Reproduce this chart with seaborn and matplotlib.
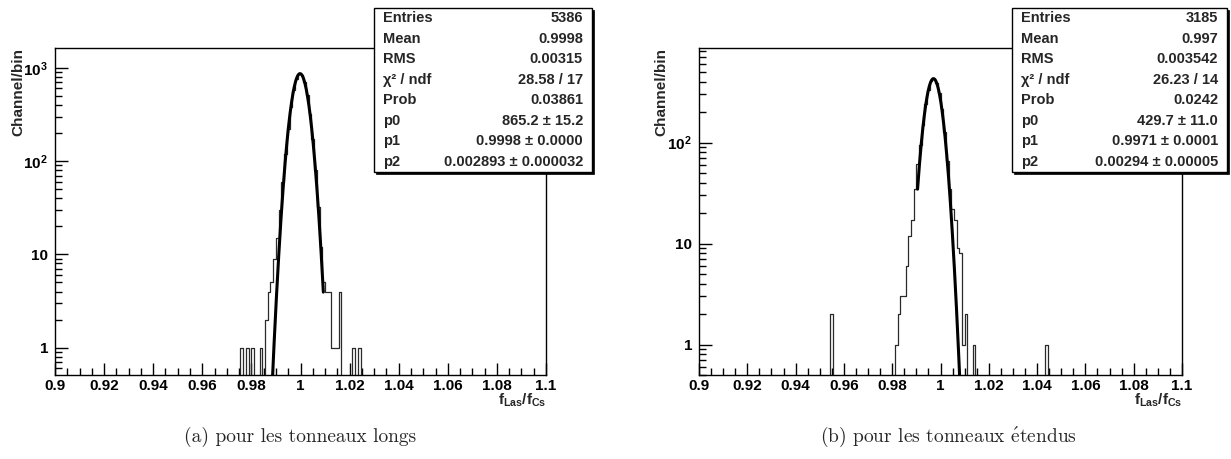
import numpy as np
import matplotlib
matplotlib.use("Agg")
import matplotlib.pyplot as plt
from matplotlib.patches import Rectangle
from matplotlib.ticker import FixedLocator, LogLocator, NullFormatter
import seaborn as sns

sns.set_theme(style="white")
plt.rcParams['font.family'] = ['Liberation Sans', 'DejaVu Sans']
plt.rcParams['font.weight'] = 'bold'
plt.rcParams['mathtext.fontset'] = 'custom'
plt.rcParams['mathtext.rm'] = 'Liberation Sans:bold'
plt.rcParams['mathtext.it'] = 'Liberation Sans:bold'
plt.rcParams['mathtext.bf'] = 'Liberation Sans:bold'
plt.rcParams['mathtext.sf'] = 'Liberation Sans:bold'

# ---------------- data ----------------
x_min, x_max, n_bins = 0.9, 1.1, 180

# (a) tonneaux longs : bin centre (f_Las/f_Cs) and content
a_ratio = [0.97611, 0.97833, 0.98056, 0.98389, 0.98611, 0.98722, 0.98833, 0.98944,
           0.99056, 0.99167, 0.99278, 0.99389, 0.99500, 0.99611, 0.99722, 0.99833,
           0.99944, 1.00056, 1.00167, 1.00278, 1.00389, 1.00500, 1.00611, 1.00722,
           1.00833, 1.00944, 1.01056, 1.01167, 1.01278, 1.01389, 1.01500, 1.01611,
           1.02167, 1.02389]
a_counts = [1, 1, 1, 1, 2, 4, 5, 9,
            15, 30, 60, 120, 218, 384, 582, 761,
            859, 836, 703, 510, 320, 172, 80, 32,
            12, 5, 4, 4, 1, 1, 1, 4,
            1, 1]

# (b) tonneaux etendus
b_ratio = [0.95500, 0.98167, 0.98278, 0.98389, 0.98500, 0.98611, 0.98722, 0.98833,
           0.98944, 0.99056, 0.99167, 0.99278, 0.99389, 0.99500, 0.99611, 0.99722,
           0.99833, 0.99944, 1.00056, 1.00167, 1.00278, 1.00389, 1.00500, 1.00611,
           1.00722, 1.00833, 1.00944, 1.01056, 1.01389, 1.04389]
b_counts = [2, 1, 2, 3, 3, 6, 12, 17,
            35, 62, 95, 150, 240, 330, 405, 428,
            392, 312, 215, 128, 66, 35, 22, 17,
            9, 8, 1, 2, 1, 1]

# gaussian fit parameters p0, p1, p2 and fit ranges
a_fit = [865.2, 0.9998, 0.002893]
b_fit = [429.7, 0.9971, 0.00294]
a_fit_range = [0.985, 1.0093]
b_fit_range = [0.9905, 1.0095]

stat_labels = ["Entries", "Mean", "RMS", "\u03c7\u00b2 / ndf", "Prob", "p0", "p1", "p2"]
a_stats = ["5386", "0.9998", "0.00315", "28.58 / 17", "0.03861",
           "865.2 \u00b1 15.2", "0.9998 \u00b1 0.0000", "0.002893 \u00b1 0.000032"]
b_stats = ["3185", "0.997", "0.003542", "26.23 / 14", "0.0242",
           "429.7 \u00b1 11.0", "0.9971 \u00b1 0.0001", "0.00294 \u00b1 0.00005"]

x_ticks = [0.9, 0.92, 0.94, 0.96, 0.98, 1.0, 1.02, 1.04, 1.06, 1.08, 1.1]
x_tick_labels = ["0.9", "0.92", "0.94", "0.96", "0.98", "1", "1.02", "1.04", "1.06", "1.08", "1.1"]
a_yticks = [1, 10, 100, 1000]
a_ytick_labels = ["1", "10", "$10^{2}$", "$10^{3}$"]
b_yticks = [1, 10, 100]
b_ytick_labels = ["1", "10", "$10^{2}$"]

captions = ["(a) pour les tonneaux longs",
            "(b) pour les tonneaux $\\mathrm{\\acute{e}}$tendus"]

# ---------------- figure ----------------
W, H = 1231, 459
fig = plt.figure(figsize=(W / 100, H / 100), dpi=100)
fig.patch.set_facecolor("white")


def fx(px):
    return px / W


def fy(py):
    return 1 - py / H


def gauss(x, p):
    return p[0] * np.exp(-0.5 * ((x - p[1]) / p[2]) ** 2)


panels = [
    dict(ax_px=(55, 47.7, 546, 375), ratio=a_ratio, counts=a_counts, fit=a_fit,
         frange=a_fit_range, ylim=(0.51, 1640), yt=a_yticks, ytl=a_ytick_labels,
         stats=a_stats, box=(374, 8, 592, 172), ylab_x=18, cap=captions[0], cap_x=300),
    dict(ax_px=(699, 47.7, 1182, 375), ratio=b_ratio, counts=b_counts, fit=b_fit,
         frange=b_fit_range, ylim=(0.5, 870), yt=b_yticks, ytl=b_ytick_labels,
         stats=b_stats, box=(1012, 8, 1227, 172), ylab_x=661, cap=captions[1], cap_x=948),
]

edges = [float(e) for e in np.linspace(x_min, x_max, n_bins + 1)]
minor_x = [float(v) for v in np.arange(0.9, 1.1001, 0.005)]

for P in panels:
    l, t, r, b = P["ax_px"]
    ax = fig.add_axes([fx(l), fy(b), (r - l) / W, (b - t) / H])
    ax.set_facecolor("white")
    sns.histplot(x=P["ratio"], weights=P["counts"], bins=edges, element="step",
                 fill=False, color="#2a2a2a", linewidth=0.9, ax=ax)
    xf = np.linspace(P["frange"][0], P["frange"][1], 400)
    sns.lineplot(x=xf, y=gauss(xf, P["fit"]), color="black", linewidth=2.2, ax=ax)
    ax.set_yscale("log")
    ax.set_xlim(x_min, x_max)
    ax.set_ylim(*P["ylim"])
    ax.set_xlabel("")
    ax.set_ylabel("")
    for s in ax.spines.values():
        s.set_color("black")
        s.set_linewidth(1.0)
        s.set_visible(True)
    ax.xaxis.set_major_locator(FixedLocator(x_ticks))
    ax.set_xticklabels(x_tick_labels)
    ax.xaxis.set_minor_locator(FixedLocator(minor_x))
    ax.yaxis.set_major_locator(FixedLocator(P["yt"]))
    ax.set_yticklabels(P["ytl"])
    ax.yaxis.set_minor_locator(LogLocator(base=10, subs=np.arange(2, 10)))
    ax.yaxis.set_minor_formatter(NullFormatter())
    ax.tick_params(axis="both", which="both", direction="in", colors="black",
                   bottom=True, left=True, top=False, right=False, labelsize=11)
    ax.tick_params(axis="x", which="major", length=9, width=1, pad=3)
    ax.tick_params(axis="x", which="minor", length=5, width=1)
    ax.tick_params(axis="y", which="major", length=9, width=1, pad=5)
    ax.tick_params(axis="y", which="minor", length=5, width=1)
    for lab in ax.get_xticklabels() + ax.get_yticklabels():
        lab.set_fontweight("bold")

    # axis titles
    fig.text(fx(P["ylab_x"]), fy(t), "Channel/bin", rotation=90, ha="center", va="top",
             fontsize=11, fontweight="bold")
    fig.text(fx(r), fy(392), "$f_{Las}/f_{Cs}$", ha="right", va="top", fontsize=11)

    # stats box with shadow
    bl, bt, br, bb = P["box"]
    fig.add_artist(Rectangle((fx(bl + 2), fy(bb + 2)), (br - bl) / W, (bb - bt) / H,
                             transform=fig.transFigure, facecolor="black",
                             edgecolor="black", linewidth=0.5, zorder=5))
    fig.add_artist(Rectangle((fx(bl), fy(bb)), (br - bl) / W, (bb - bt) / H,
                             transform=fig.transFigure, facecolor="white",
                             edgecolor="black", linewidth=1.0, zorder=6))
    row_h = (bb - bt) / len(stat_labels)
    for i, (lab, val) in enumerate(zip(stat_labels, P["stats"])):
        yc = bt + row_h * (i + 0.5)
        fig.text(fx(bl + 9), fy(yc), lab, ha="left", va="center", fontsize=10.5,
                 fontweight="bold", zorder=7)
        fig.text(fx(br - 9), fy(yc), val, ha="right", va="center", fontsize=10.5,
                 fontweight="bold", zorder=7)

    # caption
    fig.text(fx(P["cap_x"]), fy(437), P["cap"], ha="center", va="center", fontsize=14,
             fontweight="normal", family=["cmr10", "DejaVu Serif"], math_fontfamily="cm")

fig.savefig("out.png", dpi=100, facecolor="white")
